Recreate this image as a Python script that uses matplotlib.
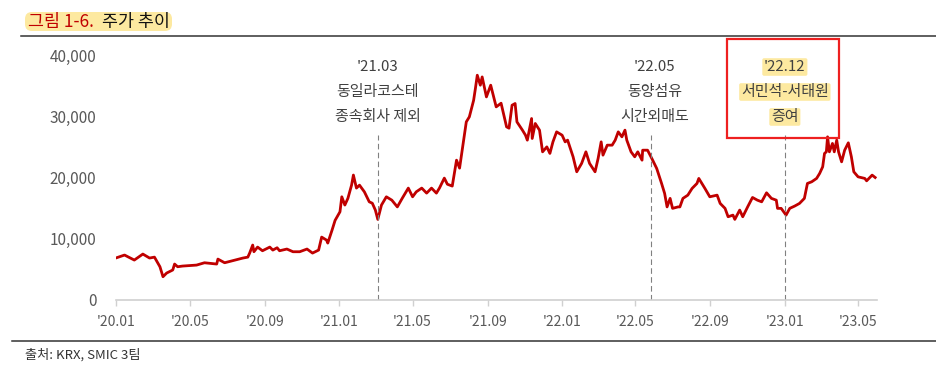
import numpy as np
import pandas as pd
import matplotlib
matplotlib.use("Agg")
import matplotlib.pyplot as plt
from matplotlib.patches import Rectangle, FancyBboxPatch
from matplotlib.lines import Line2D
import matplotlib.transforms as mtrans

plt.rcParams['font.family'] = ['Noto Sans CJK KR', 'DejaVu Sans']

# — DATA —
dates = [
    "2020-01-02", "2020-01-15", "2020-01-31", "2020-02-14", "2020-02-25", "2020-03-04",
    "2020-03-13", "2020-03-18", "2020-03-24", "2020-04-03", "2020-04-06", "2020-04-11",
    "2020-04-19", "2020-05-12", "2020-05-25", "2020-06-14", "2020-06-16", "2020-06-27",
    "2020-07-14", "2020-07-27", "2020-08-04", "2020-08-07", "2020-08-12", "2020-08-14",
    "2020-08-20", "2020-08-28", "2020-09-09", "2020-09-14", "2020-09-21", "2020-09-25",
    "2020-10-07", "2020-10-17", "2020-10-28", "2020-11-09", "2020-11-18", "2020-11-28",
    "2020-12-03", "2020-12-11", "2020-12-13", "2020-12-20", "2020-12-25", "2021-01-02",
    "2021-01-05", "2021-01-10", "2021-01-15", "2021-01-21", "2021-01-24", "2021-01-29",
    "2021-02-03", "2021-02-11", "2021-02-19", "2021-02-24", "2021-03-01", "2021-03-05",
    "2021-03-11", "2021-03-19", "2021-03-28", "2021-04-06", "2021-04-14", "2021-04-24",
    "2021-05-01", "2021-05-07", "2021-05-16", "2021-05-24", "2021-06-01", "2021-06-09",
    "2021-06-14", "2021-06-22", "2021-06-27", "2021-07-05", "2021-07-12", "2021-07-17",
    "2021-07-22", "2021-07-28", "2021-08-02", "2021-08-09", "2021-08-12", "2021-08-15",
    "2021-08-20", "2021-08-23", "2021-08-30", "2021-09-06", "2021-09-15", "2021-09-23",
    "2021-10-02", "2021-10-06", "2021-10-11", "2021-10-16", "2021-10-19", "2021-10-28",
    "2021-11-02", "2021-11-05", "2021-11-12", "2021-11-13", "2021-11-18", "2021-11-25",
    "2021-11-30", "2021-12-07", "2021-12-12", "2021-12-17", "2021-12-23", "2022-01-01",
    "2022-01-06", "2022-01-10", "2022-01-19", "2022-01-25", "2022-02-02", "2022-02-09",
    "2022-02-15", "2022-02-24", "2022-03-01", "2022-03-06", "2022-03-09", "2022-03-16",
    "2022-03-24", "2022-03-29", "2022-04-03", "2022-04-09", "2022-04-14", "2022-04-17",
    "2022-04-24", "2022-04-30", "2022-05-05", "2022-05-12", "2022-05-13", "2022-05-21",
    "2022-05-28", "2022-06-05", "2022-06-13", "2022-06-18", "2022-06-22", "2022-06-27",
    "2022-07-01", "2022-07-10", "2022-07-13", "2022-07-18", "2022-07-26", "2022-08-02",
    "2022-08-10", "2022-08-13", "2022-08-23", "2022-08-31", "2022-09-12", "2022-09-17",
    "2022-09-25", "2022-09-30", "2022-10-08", "2022-10-11", "2022-10-19", "2022-10-24",
    "2022-11-01", "2022-11-09", "2022-11-17", "2022-11-24", "2022-12-02", "2022-12-10",
    "2022-12-18", "2022-12-20", "2022-12-26", "2023-01-03", "2023-01-09", "2023-01-17",
    "2023-01-25", "2023-02-02", "2023-02-07", "2023-02-14", "2023-02-22", "2023-02-27",
    "2023-03-04", "2023-03-07", "2023-03-10", "2023-03-12", "2023-03-15", "2023-03-20",
    "2023-03-23", "2023-03-27", "2023-03-30", "2023-04-04", "2023-04-09", "2023-04-15",
    "2023-04-20", "2023-04-24", "2023-05-01", "2023-05-12", "2023-05-15", "2023-05-24",
    "2023-05-29",
]
prices = [
    6900, 7340, 6520, 7500, 6850, 7000,
    5430, 3800, 4400, 4900, 5870, 5430,
    5540, 5700, 6080, 5870, 6680, 6080,
    6520, 6850, 7000, 7660, 8970, 7880,
    8640, 8040, 8640, 8150, 8530, 8040,
    8320, 7880, 7880, 8320, 7660, 8150,
    10270, 9780, 9290, 11400, 13000, 14400,
    16850, 15500, 16600, 18750, 20400, 18270,
    18750, 17660, 16030, 15800, 14680, 13160,
    15500, 16850, 16300, 15200, 16600, 18270,
    16850, 17660, 18270, 17450, 18270, 17450,
    18270, 19900, 18900, 18600, 22830, 21530,
    25000, 29080, 29900, 32600, 34580, 36700,
    35070, 36420, 33160, 35070, 31530, 32130,
    28270, 28050, 31800, 32080, 29080, 27730,
    26910, 26100, 29630, 26370, 28820, 27730,
    24190, 25000, 23930, 25820, 27450, 26910,
    25820, 26100, 23380, 20930, 22300, 24190,
    22300, 20930, 23110, 25820, 23650, 25280,
    25280, 26100, 27450, 26640, 27730, 26100,
    24190, 23380, 24190, 22830, 24460, 24460,
    23110, 21480, 19030, 17400, 15200, 16590,
    14960, 15200, 15200, 16590, 17120, 18220,
    19030, 19850, 18220, 16850, 17120, 15770,
    14960, 13590, 13860, 13160, 14680, 13590,
    15200, 16740, 16300, 16030, 17500, 16590,
    16300, 14960, 14960, 13860, 14960, 15330,
    15770, 16590, 19030, 19300, 19850, 20660,
    21750, 23930, 24190, 26640, 24190, 25560,
    24190, 26100, 24190, 22560, 24460, 25660,
    23380, 20930, 20110, 19850, 19460, 20390,
    20000,
]

tick_dates = ["2020-01-01", "2020-05-01", "2020-09-01", "2021-01-01", "2021-05-01", "2021-09-01",
              "2022-01-01", "2022-05-01", "2022-09-01", "2023-01-01", "2023-05-01"]
tick_labels = ["'20.01", "'20.05", "'20.09", "'21.01", "'21.05", "'21.09",
               "'22.01", "'22.05", "'22.09", "'23.01", "'23.05"]
y_ticks = [0, 10000, 20000, 30000, 40000]

event_dates = ["2021-03-05", "2022-05-26", "2023-01-01"]
event_texts = [
    ["'21.03", "동일라코스테", "종속회사 제외"],
    ["'22.05", "동양섬유", "시간외매도"],
    ["'22.12", "서민석-서태원", "증여"],
]

# — PLOT —
W, H = 936, 370
fig = plt.figure(figsize=(W / 100, H / 100), dpi=100)
ax = fig.add_axes([116 / W, 1 - 300 / H, (877 - 116) / W, 245 / H])

x = pd.to_datetime(dates)
ax.plot(x, prices, color="#c00000", lw=2.0, solid_joinstyle="round")

ax.set_xlim(pd.Timestamp("2020-01-01"), pd.Timestamp("2023-06-01"))
ax.set_ylim(0, 40000)

ax.set_xticks(pd.to_datetime(tick_dates))
ax.set_xticklabels(tick_labels)
ax.set_yticks(y_ticks)
ax.set_yticklabels([f"{v:,}" for v in y_ticks])

for s in ["top", "right", "left"]:
    ax.spines[s].set_visible(False)
ax.spines["bottom"].set_color("#d0d0d0")
ax.spines["bottom"].set_linewidth(1.2)
ax.tick_params(axis="x", colors="#d0d0d0", length=4, width=1, pad=7,
               labelcolor="#595959", labelsize=10)
ax.tick_params(axis="y", length=0, pad=14, labelcolor="#595959", labelsize=11)

# event markers
blend = mtrans.blended_transform_factory(ax.transData, ax.transAxes)
text_y = [0.951, 0.849, 0.747]
for i, (d, lines) in enumerate(zip(event_dates, event_texts)):
    dt = pd.Timestamp(d)
    ax.vlines(dt, 0, 27000, colors="#808080", lw=0.8, linestyles=(0, (5, 3)))
    for j, t in enumerate(lines):
        kw = {}
        if i == 2:
            kw["bbox"] = dict(boxstyle="round,pad=0.12", fc="#fde9a0", ec="none")
        ax.text(dt + pd.Timedelta(days=6 if i == 1 else 0), text_y[j], t,
                transform=blend, ha="center", va="center",
                fontsize=10.8, color="#404040", **kw)

# red box round the '22.12 note
fig.patches.append(Rectangle((727 / W, 1 - 138 / H), 112 / W, 99 / H,
                             transform=fig.transFigure, fill=False,
                             ec="#ee2020", lw=1.6))

# title with highlight (box in inches)
fig.patches.append(FancyBboxPatch((0.25, (H - 31) / 100), 1.47, 0.19,
                                  boxstyle="round,pad=0,rounding_size=0.07",
                                  transform=fig.dpi_scale_trans,
                                  fc="#fde9a0", ec="none"))
fig.text(28 / W, 1 - 21.5 / H, "그림 1-6.", color="#c00000", fontsize=12.5,
         ha="left", va="center")
fig.text(102 / W, 1 - 21.5 / H, "주가 추이", color="#111111", fontsize=12.5,
         ha="left", va="center")

# rules top and bottom
fig.add_artist(Line2D([21 / W, 1], [1 - 35.5 / H] * 2, color="#333333", lw=1.1,
                      transform=fig.transFigure))
fig.add_artist(Line2D([12 / W, 1], [1 - 340.5 / H] * 2, color="#333333", lw=1.1,
                      transform=fig.transFigure))

fig.text(25 / W, 1 - 355 / H, "출처: KRX, SMIC 3팀", color="#333333", fontsize=9.5,
         ha="left", va="center")

fig.savefig("out.png", dpi=100)
